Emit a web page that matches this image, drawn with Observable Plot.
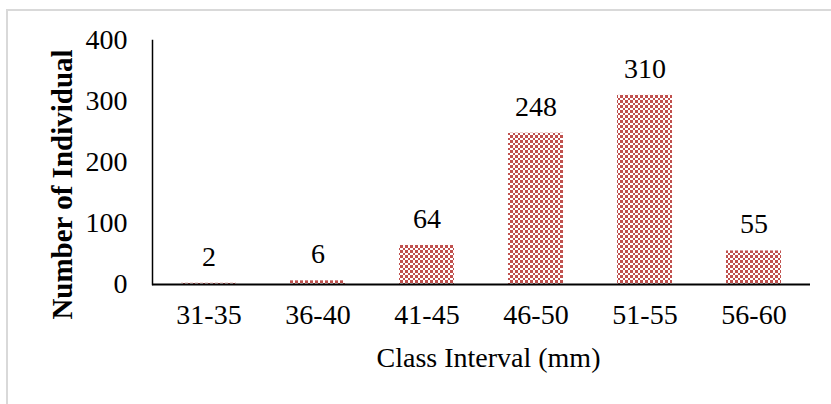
<!DOCTYPE html>
<html>
<head>
<meta charset="utf-8">
<script src="https://cdn.jsdelivr.net/npm/d3@7"></script>
<script src="https://cdn.jsdelivr.net/npm/@observablehq/plot@0.6"></script>
<style>
  html, body { margin: 0; padding: 0; background: #fff; overflow: hidden; }
  #wrap { position: relative; width: 831px; height: 404px; overflow: hidden; }
  #border { position: absolute; left: 6px; top: 9px; width: 900px; height: 500px; border: 2px solid #d9d9d9; box-sizing: border-box; }
  #chart { position: absolute; left: 0; top: 0; }
</style>
</head>
<body>
<div id="wrap"><div id="border"></div><div id="chart"></div></div>
<script>
const categories = ["31-35", "36-40", "41-45", "46-50", "51-55", "56-60"];
const counts = [2, 6, 64, 248, 310, 55];
const yTicks = [0, 100, 200, 300, 400];
const xTitle = "Class Interval (mm)";
const yTitle = "Number of Individual";

const data = categories.map((c, i) => ({cls: c, n: counts[i]}));
const font = "'Liberation Serif', 'Times New Roman', serif";

const chart = Plot.plot({
  width: 831,
  height: 404,
  marginLeft: 152,
  marginRight: 21,
  marginTop: 40,
  marginBottom: 120,
  style: {fontFamily: font, fontSize: "28px", color: "#000", background: "transparent", overflow: "visible"},
  x: {domain: categories, paddingInner: 0.5, paddingOuter: 0.25, label: null},
  y: {domain: [0, 400], label: null},
  marks: [
    Plot.barY(data, {x: "cls", y: "n", fill: "url(#checker)"}),
    Plot.axisY({ticks: yTicks, tickSize: 0, tickPadding: 25, fontSize: 28, label: null}),
    Plot.axisX({tickSize: 0, tickPadding: 20, fontSize: 28, label: null}),
    Plot.frame({anchor: "left", stroke: "#000", strokeWidth: 1.5}),
    Plot.ruleY([0], {stroke: "#000", strokeWidth: 2}),
    Plot.text(data, {x: "cls", y: "n", text: d => String(d.n), dy: -26.5, fontSize: 28, fill: "#000"}),
    Plot.text([xTitle], {frameAnchor: "bottom", lineAnchor: "middle", dy: 74, dx: 7, fontSize: 28, fill: "#000"}),
    Plot.text([yTitle], {frameAnchor: "left", textAnchor: "middle", lineAnchor: "middle", rotate: -90, dx: -90, dy: 22, fontSize: 29, fontWeight: "bold", fill: "#000"})
  ]
});

const ns = "http://www.w3.org/2000/svg";
const defs = document.createElementNS(ns, "defs");
defs.innerHTML = '<pattern id="checker" patternUnits="userSpaceOnUse" width="5" height="5">' +
  '<rect width="5" height="5" fill="#ffffff"/>' +
  '<rect x="0" y="0" width="2.5" height="2.5" fill="#c0504d" shape-rendering="crispEdges"/>' +
  '<rect x="2.5" y="2.5" width="2.5" height="2.5" fill="#c0504d" shape-rendering="crispEdges"/>' +
  '</pattern>';
chart.insertBefore(defs, chart.firstChild);
document.getElementById("chart").appendChild(chart);
</script>
</body>
</html>
